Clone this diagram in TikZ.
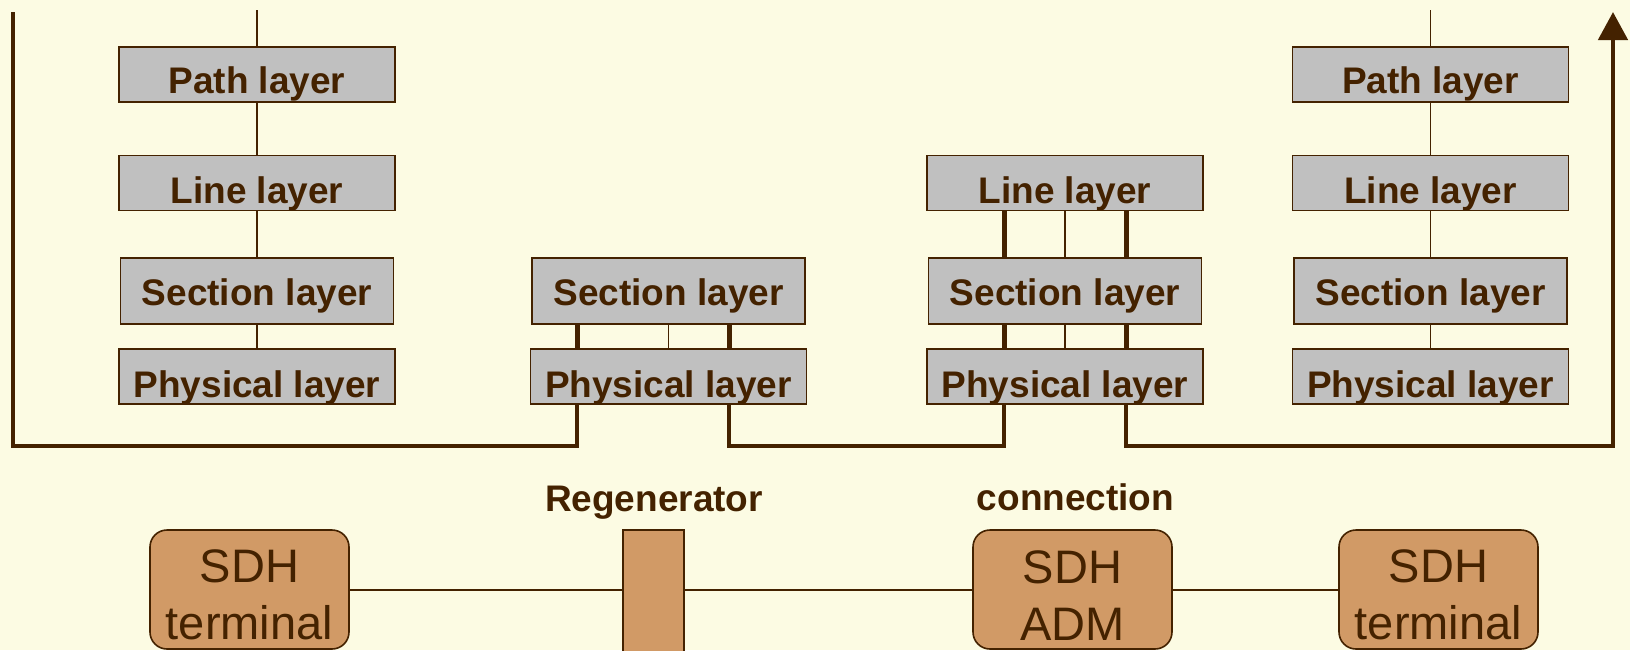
\documentclass[tikz,border=0pt]{standalone}
\usepackage{fontspec}
\setmainfont{Liberation Sans}
\usetikzlibrary{arrows.meta}
\definecolor{bgcream}{HTML}{FCFBE3}
\definecolor{ink}{HTML}{442200}
\definecolor{layergray}{HTML}{C0C0C0}
\definecolor{devorange}{HTML}{D19A66}
\newcommand{\toplift}{\rule{0pt}{22pt}}
\begin{document}
\begin{tikzpicture}[x=0.5pt,y=-0.5pt,
  layer/.style={draw=ink, fill=layergray, line width=0.8pt, inner sep=0pt,
    minimum width=138pt, minimum height=27.5pt, text depth=0pt,
    font=\fontsize{18.5}{22}\selectfont\bfseries, text=ink},
  pathbox/.style={layer, text height=19pt},
  linebox/.style={layer, text height=20pt},
  sectbox/.style={layer, minimum width=136.5pt, minimum height=33pt, text height=14pt},
  physbox/.style={layer, text height=20.5pt},
  device/.style={draw=ink, fill=devorange, line width=0.8pt, rounded corners=8.5pt,
    minimum width=99.5pt, minimum height=59.5pt, inner sep=0pt, align=center,
    font=\fontsize{23.5}{28.5}\selectfont, text=ink},
  regenbox/.style={draw=ink, fill=devorange, line width=0.8pt,
    minimum width=30.5pt, minimum height=75pt, inner sep=0pt},
  thin/.style={draw=ink, line width=0.8pt},
  thick/.style={draw=ink, line width=2.5pt},
  bus/.style={draw=ink, line width=2.4pt},
  caption/.style={font=\fontsize{18.5}{22}\selectfont\bfseries, text=ink,
    anchor=base, inner sep=0pt}]

\useasboundingbox (0,0) rectangle (1630,650);
\fill[bgcream] (0,0) rectangle (1630,650);
\clip (0,0) rectangle (1630,650);

% ---- end terminal (left) ----
\node[pathbox] (s1p) at (257,74.5) {Path layer};
\node[linebox] (s1l) at (257,183) {Line layer};
\node[sectbox] (s1s) at (257,291) {Section layer};
\node[physbox] (s1y) at (257,376.5) {Physical layer};

% ---- regenerator ----
\node[sectbox] (s2s) at (668.5,291) {Section layer};
\node[physbox] (s2y) at (668.5,376.5) {Physical layer};

% ---- add/drop multiplexer ----
\node[linebox] (s3l) at (1065,183) {Line layer};
\node[sectbox] (s3s) at (1065,291) {Section layer};
\node[physbox] (s3y) at (1065,376.5) {Physical layer};

% ---- end terminal (right) ----
\node[pathbox] (s4p) at (1430.5,74.5) {Path layer};
\node[linebox] (s4l) at (1430.5,183) {Line layer};
\node[sectbox] (s4s) at (1430.5,291) {Section layer};
\node[physbox] (s4y) at (1430.5,376.5) {Physical layer};

% turning points of the signal path
\coordinate (lt) at (13,12);
\coordinate (lb) at (13,446);
\coordinate (r1) at (577,446);
\coordinate (r2) at (729,446);
\coordinate (a1) at (1004,446);
\coordinate (a2) at (1126,446);
\coordinate (rb) at (1613,446);
\coordinate (rt) at (1613,12);
\coordinate (top1) at (257,10);
\coordinate (top4) at (1430.5,10);

% thin links inside the stacks
\draw[thin] (top1) -- (s1p.north);
\draw[thin] (s1p.south) -- (s1l.north);
\draw[thin] (s1l.south) -- (s1s.north);
\draw[thin] (s1s.south) -- (s1y.north);

\draw[thin] (top4) -- (s4p.north);
\draw[thin] (s4p.south) -- (s4l.north);
\draw[thin] (s4l.south) -- (s4s.north);
\draw[thin] (s4s.south) -- (s4y.north);

\draw[thin] (s2s.south) -- (s2y.north);
\draw[thin] (s3l.south) -- (s3s.north);
\draw[thin] (s3s.south) -- (s3y.north);

% thick links inside the stacks
\draw[thick] (s2s.south -| r1) -- (s2y.north -| r1);
\draw[thick] (s2s.south -| r2) -- (s2y.north -| r2);
\draw[thick] (s3l.south -| a1) -- (s3s.north -| a1);
\draw[thick] (s3s.south -| a1) -- (s3y.north -| a1);
\draw[thick] (s3l.south -| a2) -- (s3s.north -| a2);
\draw[thick] (s3s.south -| a2) -- (s3y.north -| a2);

% signal path
\draw[bus] (lt) -- (lb) -- (r1) -- (s2y.south -| r1);
\draw[bus] (s2y.south -| r2) -- (r2) -- (a1) -- (s3y.south -| a1);
\draw[bus, -{Triangle[length=14pt,width=14.5pt]}] (s3y.south -| a2) -- (a2) -- (rb) -- (rt);

% ---- network elements ----
\node[device] (term1) at (249.5,589.5) {\toplift SDH\\terminal};
\node[regenbox] (regen) at (653.5,605) {};
\node[device] (adm) at (1072.5,589.5) {\toplift SDH\\ADM};
\node[device] (term2) at (1438.5,589.5) {\toplift SDH\\terminal};

\node[caption] (regenlbl) at (654,511) {Regenerator};
\node[caption] (connlbl) at (1075.5,510) {connection};

\draw[thin] (term1.east |- 0,590) -- (regen.west |- 0,590);
\draw[thin] (regen.east |- 0,590) -- (adm.west |- 0,590);
\draw[thin] (adm.east |- 0,590) -- (term2.west |- 0,590);
\end{tikzpicture}
\end{document}
